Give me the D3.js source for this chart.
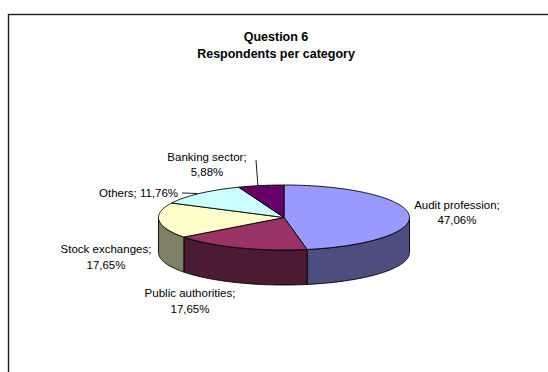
<!DOCTYPE html>
<html>
<head>
<meta charset="utf-8">
<script src="https://cdn.jsdelivr.net/npm/d3@7"></script>
<style>
  html, body { margin: 0; padding: 0; background: #fff; }
  svg { display: block; }
  text { font-family: "Liberation Sans", Arial, sans-serif; fill: #000; }
</style>
</head>
<body>
<svg id="chart" width="548" height="372"></svg>
<script>
// Respondents per category (share of respondents, %)
const categories = ["Audit profession", "Public authorities", "Stock exchanges", "Others", "Banking sector"];
const shares = [47.06, 17.65, 17.65, 11.76, 5.88];
const shareLabels = ["47,06%", "17,65%", "17,65%", "11,76%", "5,88%"];
const titleLines = ["Question 6", "Respondents per category"];

const topColors  = ["#9999ff", "#993366", "#ffffcc", "#ccffff", "#660066"];
const sideColors = ["#4d4d80", "#4d1a33", "#808066", "#668080", "#330033"];

const svg = d3.select("#chart");

// chart area frame (runs past the right and bottom edges of the view)
svg.append("rect")
  .attr("x", 8.5).attr("y", 14.5)
  .attr("width", 700).attr("height", 500)
  .attr("fill", "#fff").attr("stroke", "#1a1a1a").attr("stroke-width", 1.4);

// title
svg.append("g").selectAll("text").data(titleLines).join("text")
  .attr("x", 276).attr("y", (d, i) => 41 + i * 16.5)
  .attr("text-anchor", "middle")
  .attr("font-size", 12.5).attr("font-weight", "bold")
  .text(d => d);

// 3-D pie geometry
const cx = 284, cy = 217.5, rx = 125.5, ry = 32.5, depth = 35;
const pt = (a, dy = 0) => [cx + rx * Math.sin(a), cy - ry * Math.cos(a) + dy];

const pie = d3.pie().sort(null).value(d => d).startAngle(0).endAngle(2 * Math.PI);
const arcs = pie(shares);

const line = d3.line();
function arcPoints(a0, a1, dy) {
  const n = Math.max(2, Math.ceil(Math.abs(a1 - a0) / 0.02));
  return d3.range(n + 1).map(i => pt(a0 + (a1 - a0) * i / n, dy));
}

// outer walls: only the front half (from 90° to 270°) is visible
const walls = svg.append("g");
arcs.forEach((d, i) => {
  const a0 = Math.max(d.startAngle, Math.PI / 2);
  const a1 = Math.min(d.endAngle, 3 * Math.PI / 2);
  if (a1 <= a0) return;
  const pts = arcPoints(a0, a1, 0).concat(arcPoints(a1, a0, depth));
  walls.append("path")
    .attr("d", line(pts) + "Z")
    .attr("fill", sideColors[i])
    .attr("stroke", "#000").attr("stroke-width", 0.9).attr("stroke-linejoin", "round");
});

// top faces
const tops = svg.append("g");
arcs.forEach((d, i) => {
  const pts = [[cx, cy]].concat(arcPoints(d.startAngle, d.endAngle, 0));
  tops.append("path")
    .attr("d", line(pts) + "Z")
    .attr("fill", topColors[i])
    .attr("stroke", "#000").attr("stroke-width", 0.9).attr("stroke-linejoin", "round");
});

// data labels
const fs = 11.5;
const labels = svg.append("g").attr("font-size", fs);
function twoLine(i, x, y) {
  const t = labels.append("text").attr("x", x).attr("y", y).attr("text-anchor", "middle");
  t.append("tspan").attr("x", x).attr("dy", 0).text(categories[i] + ";");
  t.append("tspan").attr("x", x).attr("dy", 15.5).text(shareLabels[i]);
}
twoLine(0, 457, 208.5);
twoLine(1, 190, 297);
twoLine(2, 106, 253);
twoLine(4, 207, 160.5);

labels.append("text").attr("x", 99).attr("y", 197)
  .text(categories[3] + "; " + shareLabels[3]);

// leader lines from labels to the slice rims
const mid = d => (d.startAngle + d.endAngle) / 2;
const leaders = svg.append("g").attr("stroke", "#000").attr("stroke-width", 0.9).attr("fill", "none");
const pOthers = pt(mid(arcs[3]));
leaders.append("path").attr("d", line([[182, 193], [pOthers[0] - 2, pOthers[1]]]));
const pBank = pt(mid(arcs[4]));
leaders.append("path").attr("d", line([[256, 160], [pBank[0] - 3, pBank[1] + 0.5]]));
</script>
</body>
</html>
